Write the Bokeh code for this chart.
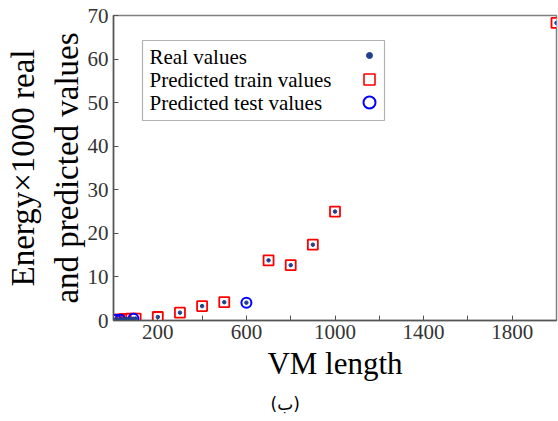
from bokeh.plotting import figure
from bokeh.models import Range1d, FixedTicker, Label, BoxAnnotation, Title
from bokeh.embed import file_html
from bokeh.resources import INLINE

# ---- data ----
train_x = [20, 40, 50, 60, 70, 80, 100, 200, 300, 400, 500, 700, 800, 900, 1000, 2000]
train_y = [0.2, 0.25, 0.3, 0.3, 0.35, 0.4, 0.45, 0.8, 1.8, 3.3, 4.2, 13.8, 12.7, 17.4, 25.0, 68.3]
test_x = [10, 30, 90, 600]
test_y = [0.15, 0.2, 0.4, 4.1]
real_x = train_x + test_x
real_y = train_y + test_y

x_ticks = [200, 600, 1000, 1400, 1800]
x_minor = [400, 800, 1200, 1600]
y_ticks = [0, 10, 20, 30, 40, 50, 60, 70]

legend_labels = ["Real values", "Predicted train values", "Predicted test values"]
caption = "(\u0628)"

X0, X1 = 0, 2000
Y0, Y1 = 0, 70
W, H = 558, 421
FL, FR, FT, FB = 113, 556, 15, 320  # frame edges in figure pixels


def px2x(px):
    return X0 + (px - FL) / (FR - FL) * (X1 - X0)


def py2y(py):
    return Y0 + (FB - py) / (FB - FT) * (Y1 - Y0)


SERIF = "Liberation Serif"

p = figure(width=W, height=H, output_backend="svg", toolbar_location=None,
           x_range=Range1d(X0, X1), y_range=Range1d(Y0, Y1),
           min_border_left=FL, min_border_right=W - FR,
           min_border_top=FT, min_border_bottom=H - FB)
p.grid.visible = False
p.outline_line_color = "#808080"
p.outline_line_width = 1.5
p.background_fill_color = "white"
p.border_fill_color = "white"

for ax in (p.xaxis[0], p.yaxis[0]):
    ax.axis_line_color = "#555555"
    ax.axis_line_width = 1.5
    ax.major_tick_in = 5
    ax.major_tick_out = 0
    ax.minor_tick_in = 5
    ax.minor_tick_out = 0
    ax.major_tick_line_color = "#555555"
    ax.minor_tick_line_color = "#555555"
    ax.major_label_text_font = SERIF
    ax.major_label_text_font_size = "21px"
    ax.major_label_text_color = "#333333"
    ax.axis_label_text_font = SERIF
    ax.axis_label_text_font_style = "normal"
    ax.axis_label_text_color = "black"

p.xaxis[0].ticker = FixedTicker(ticks=x_ticks, minor_ticks=x_minor)
p.yaxis[0].ticker = FixedTicker(ticks=y_ticks, minor_ticks=[])
p.xaxis[0].axis_label = "VM length"
p.xaxis[0].axis_label_text_font_size = "31px"
p.xaxis[0].major_label_standoff = 4
p.xaxis[0].axis_label_standoff = 4
p.yaxis[0].axis_label = "Energy\u00d71000 real\nand predicted values"
p.yaxis[0].axis_label_text_font_size = "33px"
p.yaxis[0].major_label_standoff = 5
p.yaxis[0].axis_label_standoff = 0

p.scatter(train_x, train_y, marker="square", size=10, fill_color="white",
          line_color="#ff0000", line_width=1.8)
p.scatter(test_x, test_y, marker="circle", size=10, fill_color=None,
          line_color="#0000ff", line_width=2)
p.scatter(real_x, real_y, marker="circle", size=3.5, fill_color="#1f3f8f",
          line_color="#1f3f8f")

# ---- custom legend (markers on the right) ----
box = BoxAnnotation(left=px2x(142), right=px2x(384), top=py2y(40), bottom=py2y(120),
                    fill_color="white", fill_alpha=1, line_color="black", line_width=1.2,
                    level="annotation")
p.add_layout(box)
rows = [56, 79, 102]
for lab, py in zip(legend_labels, rows):
    p.add_layout(Label(x=px2x(149), y=py2y(py), text=lab, text_font=SERIF,
                       text_font_size="21px", text_baseline="middle",
                       text_color="black", level="overlay"))
mx = px2x(369)
p.scatter([mx], [py2y(rows[0] - 1)], marker="circle", size=6, fill_color="#1f3f8f",
          line_color="#1f3f8f", level="overlay")
p.scatter([mx], [py2y(rows[1])], marker="square", size=11, fill_color=None,
          line_color="#ff0000", line_width=1.6, level="overlay")
p.scatter([mx], [py2y(rows[2])], marker="circle", size=12, fill_color=None,
          line_color="#0000ff", line_width=2, level="overlay")

# caption below the axis
p.add_layout(Title(text=caption, align="left", offset=157, text_font="DejaVu Sans",
                   text_font_size="17px", text_font_style="normal",
                   text_color="black", standoff=16), "below")

open("out.html", "w").write(file_html(p, INLINE))
